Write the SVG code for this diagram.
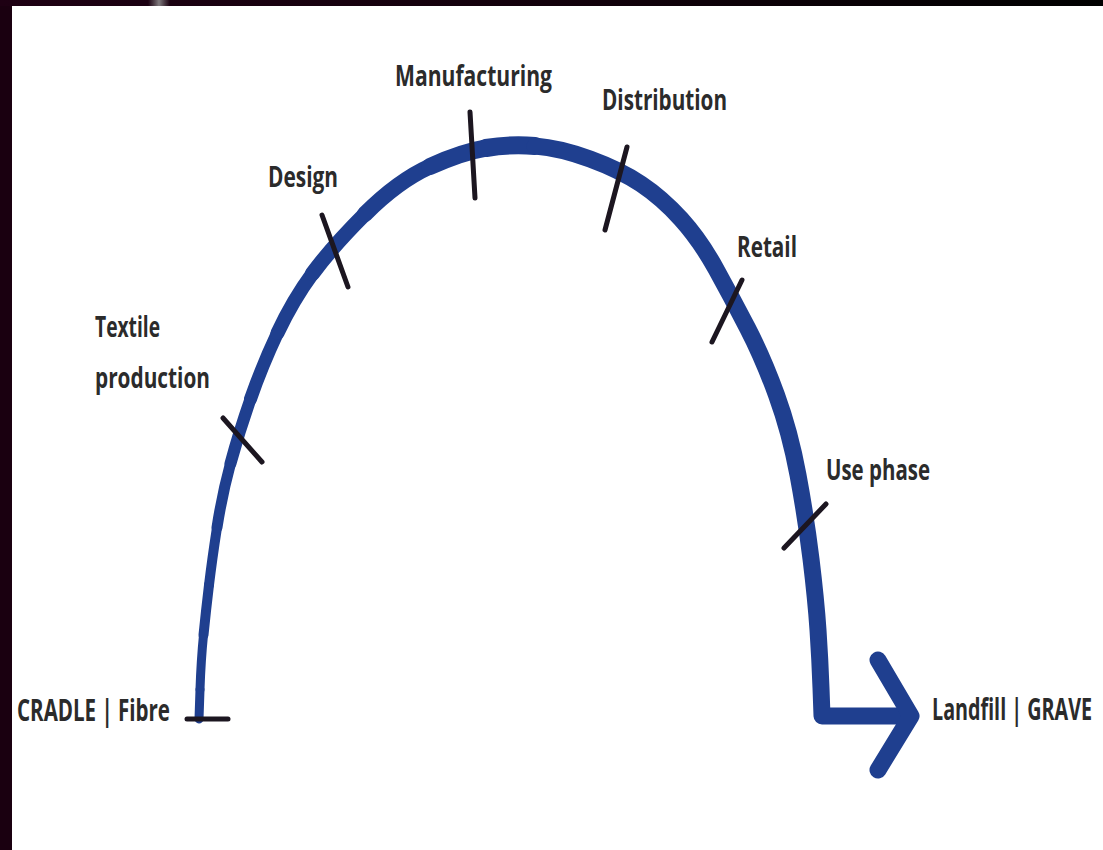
<svg xmlns="http://www.w3.org/2000/svg" width="1103" height="850" viewBox="0 0 1103 850">
  <defs>
    <linearGradient id="frameTop" x1="0" y1="0" x2="1" y2="0">
      <stop offset="0" stop-color="#1e0013"/>
      <stop offset="0.5" stop-color="#12000b"/>
      <stop offset="1" stop-color="#000000"/>
    </linearGradient>
    <linearGradient id="glare" x1="0" y1="0" x2="1" y2="0">
      <stop offset="0" stop-color="#888" stop-opacity="0"/>
      <stop offset="0.5" stop-color="#9a9a9a" stop-opacity="0.8"/>
      <stop offset="1" stop-color="#888" stop-opacity="0"/>
    </linearGradient>
    <style>
      .arc { fill: none; stroke: #1f3f8f; stroke-linecap: round; stroke-linejoin: round; }
      .tick { fill: none; stroke: #1c1620; stroke-width: 5; stroke-linecap: round; }
      .label { font-family: "Open Sans", "Liberation Sans", sans-serif; font-weight: 700; font-size: 28px; fill: #2b2b2b; }
      .end { font-size: 30px; }
    </style>
  </defs>

  <!-- frame and white panel -->
  <rect x="0" y="0" width="1103" height="850" fill="#1a0010"/>
  <rect x="0" y="0" width="1103" height="6" fill="url(#frameTop)"/>
  <rect x="148" y="0" width="22" height="6" fill="url(#glare)"/>
  <rect x="12" y="6" width="1091" height="844" fill="#ffffff"/>

  <!-- lifecycle arc: tapers from a thin base on the left to full width over the top -->
  <g id="connectors">
    <path class="arc" stroke-width="9" d="M199,719 L200,689.5"/>
    <path class="arc" stroke-width="9" d="M200,689.5 Q201,660 203.5,635"/>
    <path class="arc" stroke-width="10" d="M203.5,635 Q206,610 209,585"/>
    <path class="arc" stroke-width="10" d="M209,585 Q212,560 217,527.5"/>
    <path class="arc" stroke-width="11" d="M217,527.5 Q222,495 230.5,463.5"/>
    <path class="arc" stroke-width="12" d="M230.5,463.5 Q239,432 250.5,399"/>
    <path class="arc" stroke-width="13" d="M250.5,399 Q262,366 277.5,333"/>
    <path class="arc" stroke-width="14" d="M277.5,333 Q293,300 312.5,273.5"/>
    <path class="arc" stroke-width="15" d="M312.5,273.5 Q332,247 365,214"/>
    <path class="arc" stroke-width="16" d="M365,214 Q398,181 430,166.5"/>
    <path class="arc" stroke-width="17" d="M430,166.5 Q462,152 486,148"/>
    <path class="arc" stroke-width="18" d="M486,148 Q510,144 535,146"/>
    <path class="arc" stroke-width="17" d="M535,146 Q560,148 590,159 Q620,170 641,184 Q662,198 681,219 Q700,240 716,269 Q732,298 747.5,328 Q763,358 776.5,395 Q790,432 798,475 Q806,518 811,559 Q816,600 818,630 Q820,660 821,688 L822,716 L905,716"/>
    <path class="arc" stroke-width="17" d="M878,660 L911,716 L878,770"/>
  </g>

  <g id="cradle">
    <line class="tick" x1="187" y1="719" x2="228" y2="719" stroke-width="7"/>
    <text class="label end" x="17" y="721" textLength="153" lengthAdjust="spacingAndGlyphs">CRADLE | Fibre</text>
  </g>

  <g id="textile-production">
    <line class="tick" x1="223" y1="418" x2="262" y2="462"/>
    <text class="label" x="95" y="337" textLength="65" lengthAdjust="spacingAndGlyphs">Textile</text>
    <text class="label" x="95" y="388" textLength="115" lengthAdjust="spacingAndGlyphs">production</text>
  </g>

  <g id="design">
    <line class="tick" x1="322" y1="215" x2="348" y2="287"/>
    <text class="label" x="268" y="187" textLength="70" lengthAdjust="spacingAndGlyphs">Design</text>
  </g>

  <g id="manufacturing">
    <line class="tick" x1="470" y1="112" x2="475" y2="198"/>
    <text class="label" x="395" y="86" textLength="157" lengthAdjust="spacingAndGlyphs">Manufacturing</text>
  </g>

  <g id="distribution">
    <line class="tick" x1="627" y1="147" x2="605" y2="230"/>
    <text class="label" x="602" y="110" textLength="125" lengthAdjust="spacingAndGlyphs">Distribution</text>
  </g>

  <g id="retail">
    <line class="tick" x1="742" y1="280" x2="712" y2="342"/>
    <text class="label" x="737" y="257" textLength="60" lengthAdjust="spacingAndGlyphs">Retail</text>
  </g>

  <g id="use-phase">
    <line class="tick" x1="826" y1="504" x2="784" y2="548"/>
    <text class="label" x="826" y="480" textLength="104" lengthAdjust="spacingAndGlyphs">Use phase</text>
  </g>

  <g id="grave">
    <text class="label end" x="1092" y="720" text-anchor="end" textLength="160" lengthAdjust="spacingAndGlyphs">Landfill | GRAVE</text>
  </g>
</svg>
